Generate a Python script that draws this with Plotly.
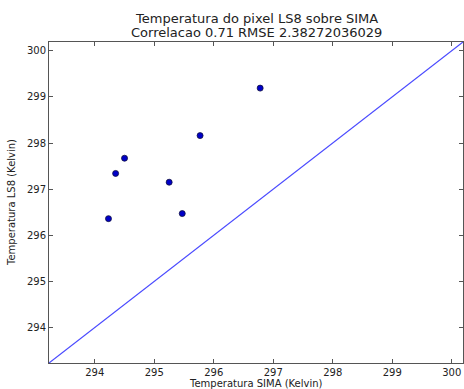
import plotly.graph_objects as go

sima = [296.78, 295.77, 294.50, 294.35, 295.25, 295.47, 294.23]
ls8 = [299.19, 298.16, 297.67, 297.34, 297.15, 296.47, 296.36]
ref_line = [293.23, 300.19]
tick_vals = [294, 295, 296, 297, 298, 299, 300]
title_lines = ["Temperatura do pixel LS8 sobre SIMA", "Correlacao 0.71 RMSE 2.38272036029"]
x_label = "Temperatura SIMA (Kelvin)"
y_label = "Temperatura LS8 (Kelvin)"

font = "DejaVu Sans"
fig = go.Figure()
fig.add_trace(go.Scatter(x=ref_line, y=ref_line, mode="lines",
                         line=dict(color="#4a4aff", width=1.2), hoverinfo="skip"))
fig.add_trace(go.Scatter(x=sima, y=ls8, mode="markers",
                         marker=dict(color="#0000c8", size=6, line=dict(color="#101040", width=0.8))))

axis_common = dict(showgrid=False, zeroline=False, showline=True, linecolor="#555555",
                   linewidth=1, mirror="ticks", ticks="inside", ticklen=4, tickcolor="#555555",
                   tickvals=tick_vals, tickfont=dict(family=font, size=10, color="#222222"))
fig.update_xaxes(range=ref_line, **axis_common)
fig.update_yaxes(range=ref_line, **axis_common)

title_font = dict(family=font, size=13, color="#222222")
label_font = dict(family=font, size=10, color="#222222")
fig.update_layout(
    width=464, height=389,
    margin=dict(l=49, r=1, t=42, b=26),
    plot_bgcolor="white", paper_bgcolor="white",
    showlegend=False,
    font=dict(family=font, color="#222222"),
    annotations=[
        dict(text=title_lines[0], xref="paper", yref="paper", x=0.5, y=1, yshift=24,
             yanchor="middle", showarrow=False, font=title_font),
        dict(text=title_lines[1], xref="paper", yref="paper", x=0.5, y=1, yshift=10,
             yanchor="middle", showarrow=False, font=title_font),
        dict(text=x_label, xref="paper", yref="paper", x=0.5, y=0, yshift=-20,
             yanchor="middle", showarrow=False, font=label_font),
        dict(text=y_label, xref="paper", yref="paper", x=0, y=0.5, xshift=-30,
             xanchor="right", textangle=-90, showarrow=False, font=label_font),
    ],
)
fig.write_html("out.html", config={"displayModeBar": False},
               post_script="document.body.style.margin='0';document.body.style.overflow='hidden';")
